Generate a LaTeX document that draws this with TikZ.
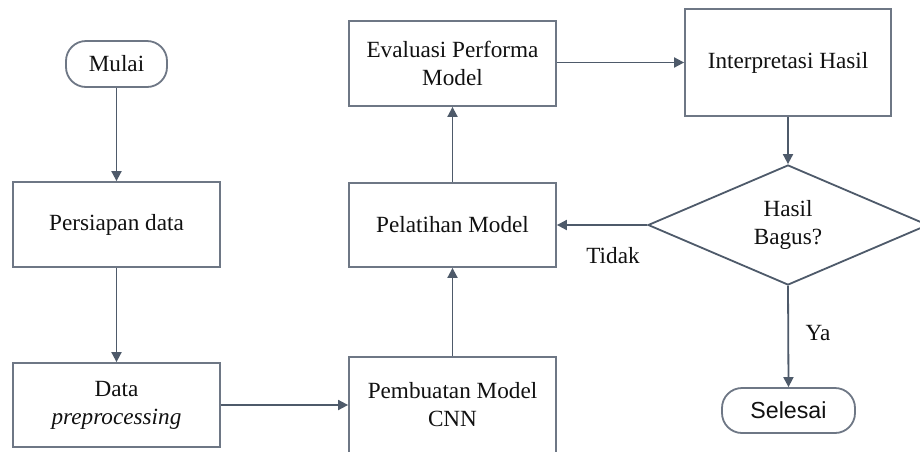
\documentclass[tikz,border=0pt]{standalone}
\usepackage{fontspec}
\setmainfont{Liberation Serif}
\newfontfamily\labelsans{Liberation Sans}
\usetikzlibrary{shapes.geometric,arrows.meta}
\definecolor{edgeclr}{HTML}{4E5A6A}
\definecolor{boxclr}{HTML}{6E7785}
\definecolor{txtclr}{HTML}{111111}
\tikzset{
  procbox/.style={draw=boxclr, line width=0.9pt, rectangle, inner sep=0pt,
    align=center, text=txtclr, font=\fontsize{11.6}{14}\selectfont},
  termbox/.style={draw=boxclr, line width=0.9pt, rectangle, rounded corners=10pt,
    inner sep=0pt, align=center, text=txtclr},
  decbox/.style={draw=edgeclr, line width=0.9pt, diamond, inner sep=0pt,
    align=center, text=txtclr, font=\fontsize{11.6}{14}\selectfont},
  flow/.style={draw=edgeclr, line width=0.9pt,
    -{Triangle[length=5pt,width=5pt]}},
  edgelabel/.style={text=txtclr, font=\fontsize{11.6}{14}\selectfont, inner sep=0pt}
}
\begin{document}
\begin{tikzpicture}[x=0.5pt,y=-0.5pt]
  \useasboundingbox (0,0) rectangle (920,451);
  \clip (0,0) rectangle (920,451);
  \fill[white] (0,0) rectangle (920,451);

  % left column
  \node[termbox, minimum width=50.5pt, minimum height=23pt,
        font=\fontsize{11.6}{14}\selectfont] (mulai) at (116.5,64) {Mulai};
  \node[procbox, minimum width=103.5pt, minimum height=42.5pt] (prep) at (116.5,224.5) {Persiapan data};
  \node[procbox, minimum width=103.5pt, minimum height=42pt] (dpre) at (116.5,405) {Data\\\textit{preprocessing}};

  % middle column
  \node[procbox, minimum width=103.5pt, minimum height=48pt] (cnn) at (452.5,405) {Pembuatan Model\\CNN};
  \node[procbox, minimum width=103.5pt, minimum height=42pt] (train) at (452.5,225) {Pelatihan Model};
  \node[procbox, minimum width=103.5pt, minimum height=42.5pt] (eval) at (452.5,63.5) {Evaluasi Performa\\Model};

  % right column
  \node[procbox, minimum width=103pt, minimum height=53.5pt] (interp) at (788,62.5) {Interpretasi Hasil};
  \node[decbox, minimum width=140pt, minimum height=60pt, aspect=2.33] (dec) at (788,225) {Hasil\\Bagus?};
  \node[termbox, minimum width=66.5pt, minimum height=22.5pt,
        font=\labelsans\fontsize{11.6}{14}\selectfont] (done) at (788.5,410.5) {Selesai};

  % connectors
  \draw[flow] (mulai) -- (prep);
  \draw[flow] (prep) -- (dpre);
  \draw[flow] (dpre) -- (cnn);
  \draw[flow] (cnn) -- (train);
  \draw[flow] (train) -- (eval);
  \draw[flow] (eval.east |- interp.west) -- (interp.west);
  \draw[flow] (interp) -- (dec);
  \draw[flow] (dec.west) -- (train.east);
  \draw[flow] (dec.south) -- (done.north);

  % branch labels
  \node[edgelabel] (tidak) at (613,256) {Tidak};
  \node[edgelabel] (ya) at (818,333) {Ya};
\end{tikzpicture}
\end{document}
